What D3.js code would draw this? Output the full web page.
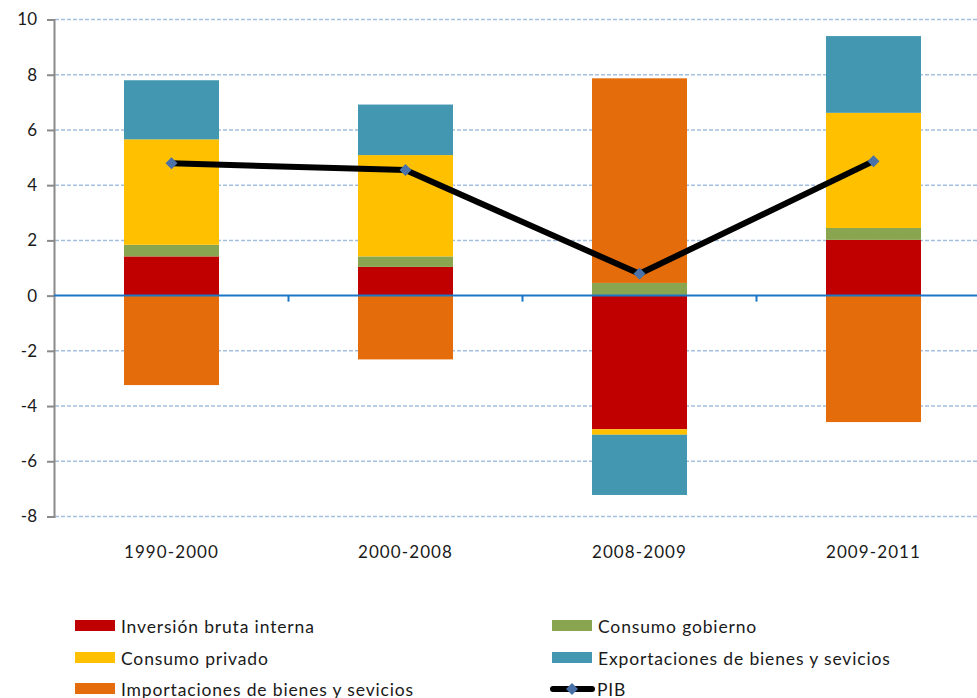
<!DOCTYPE html>
<html>
<head>
<meta charset="utf-8">
<script src="https://cdn.jsdelivr.net/npm/d3@7"></script>
<style>
  html, body { margin: 0; padding: 0; background: #fff; }
  svg { display: block; }
  text { font-family: Lato, "Open Sans", sans-serif; fill: #1a1a1a; }
</style>
</head>
<body>
<svg id="chart" width="977" height="698"></svg>
<script>
// Periods on the horizontal axis
const periods = ["1990-2000", "2000-2008", "2008-2009", "2009-2011"];

// Contributions to GDP growth, by component (percentage points)
const inversion      = [1.42, 1.04, -4.84, 2.02];
const consumoGob     = [0.42, 0.38, 0.46, 0.43];
const consumoPriv    = [3.82, 3.67, -0.20, 4.17];
const exportaciones  = [2.14, 1.83, -2.18, 2.78];
const importaciones  = [-3.24, -2.31, 7.41, -4.58];

// GDP growth line
const pib = [4.79, 4.55, 0.79, 4.87];

// Axis ticks
const yTicks = [-8, -6, -4, -2, 0, 2, 4, 6, 8, 10];

const seriesNames = [
  "Inversión bruta interna",
  "Consumo gobierno",
  "Consumo privado",
  "Exportaciones de bienes y sevicios",
  "Importaciones de bienes y sevicios"
];
const seriesValues = [inversion, consumoGob, consumoPriv, exportaciones, importaciones];
const seriesColors = ["#c00000", "#8aa54f", "#ffc000", "#4397b0", "#e46c0a"];

const svg = d3.select("#chart");
const W = 977;

const x = d3.scaleBand()
  .domain(periods)
  .range([54.5, 990.5])
  .paddingInner(0.594)
  .paddingOuter(0.297);

const y = d3.scaleLinear().domain([-8, 10]).range([516.5, 19.5]);

// Gridlines
svg.append("g")
  .selectAll("line")
  .data(yTicks.filter(t => t !== 0))
  .join("line")
  .attr("x1", 55).attr("x2", W)
  .attr("y1", d => y(d)).attr("y2", d => y(d))
  .attr("stroke", "#a4bedd")
  .attr("stroke-width", 1.5)
  .attr("stroke-dasharray", "4,2");

// Stacked data (positive and negative stacks diverge from zero)
const rows = periods.map((p, i) => {
  const r = { period: p };
  seriesNames.forEach((n, k) => { r[n] = seriesValues[k][i]; });
  return r;
});
const stacked = d3.stack()
  .keys(seriesNames)
  .offset(d3.stackOffsetDiverging)(rows);

svg.append("g")
  .selectAll("g")
  .data(stacked)
  .join("g")
  .attr("fill", (d, i) => seriesColors[i])
  .selectAll("rect")
  .data(d => d)
  .join("rect")
  .attr("x", d => x(d.data.period))
  .attr("width", x.bandwidth())
  .attr("y", d => y(Math.max(d[0], d[1])))
  .attr("height", d => Math.abs(y(d[0]) - y(d[1])));

// Left axis
const yAxis = d3.axisLeft(y)
  .tickValues(yTicks)
  .tickFormat(d => String(d))
  .tickSize(7)
  .tickPadding(10);
const gy = svg.append("g").attr("transform", "translate(54,0)").call(yAxis);
gy.select(".domain").attr("stroke", "#8a8a8a").attr("stroke-width", 2);
gy.selectAll(".tick line").attr("stroke", "#8a8a8a").attr("stroke-width", 2);
gy.selectAll(".tick text")
  .attr("font-size", 17)
  .attr("fill", "#1a1a1a")
  .style("font-family", "Lato, 'Open Sans', sans-serif");

// Zero baseline with category tick marks
const zeroY = y(0);
svg.append("line")
  .attr("x1", 54).attr("x2", W)
  .attr("y1", zeroY).attr("y2", zeroY)
  .attr("stroke", "#1a76c6")
  .attr("stroke-width", 2);
const boundaries = periods.slice(1).map(p => x(p) - x.step() * x.paddingInner() / 2);
svg.append("g")
  .selectAll("line")
  .data(boundaries)
  .join("line")
  .attr("x1", d => d).attr("x2", d => d)
  .attr("y1", zeroY).attr("y2", zeroY + 6)
  .attr("stroke", "#1a76c6")
  .attr("stroke-width", 2);

// Category labels
svg.append("g")
  .selectAll("text")
  .data(periods)
  .join("text")
  .attr("x", d => x(d) + x.bandwidth() / 2)
  .attr("y", 558)
  .attr("text-anchor", "middle")
  .attr("font-size", 17)
  .attr("letter-spacing", 1.1)
  .text(d => d);

// PIB line with diamond markers
const cx = d => x(d) + x.bandwidth() / 2;
const line = d3.line()
  .x((d, i) => cx(periods[i]))
  .y(d => y(d));
svg.append("path")
  .datum(pib)
  .attr("d", line)
  .attr("fill", "none")
  .attr("stroke", "#000")
  .attr("stroke-width", 6)
  .attr("stroke-linejoin", "round");

const diamond = d3.symbol().type(d3.symbolSquare).size(72);
svg.append("g")
  .selectAll("path")
  .data(pib)
  .join("path")
  .attr("d", diamond)
  .attr("transform", (d, i) => `translate(${cx(periods[i])},${y(d)}) rotate(45)`)
  .attr("fill", "#4a72a8");

// Legend
const legendItems = [
  { name: seriesNames[0], color: seriesColors[0], col: 0, row: 0 },
  { name: seriesNames[1], color: seriesColors[1], col: 1, row: 0 },
  { name: seriesNames[2], color: seriesColors[2], col: 0, row: 1 },
  { name: seriesNames[3], color: seriesColors[3], col: 1, row: 1 },
  { name: seriesNames[4], color: seriesColors[4], col: 0, row: 2 },
  { name: "PIB", color: null, col: 1, row: 2 }
];
const colX = [75, 552];
const rowY = [626, 658, 689];

const lg = svg.append("g")
  .selectAll("g")
  .data(legendItems)
  .join("g")
  .attr("transform", d => `translate(${colX[d.col]},${rowY[d.row]})`);

lg.filter(d => d.color)
  .append("rect")
  .attr("x", 0).attr("y", -6)
  .attr("width", 40).attr("height", 11)
  .attr("fill", d => d.color);

const pibLeg = lg.filter(d => !d.color);
pibLeg.append("line")
  .attr("x1", 1).attr("x2", 40)
  .attr("y1", 0).attr("y2", 0)
  .attr("stroke", "#000")
  .attr("stroke-width", 6)
  .attr("stroke-linecap", "round");
pibLeg.append("path")
  .attr("d", diamond)
  .attr("transform", "translate(20,0) rotate(45)")
  .attr("fill", "#4a72a8");

lg.append("text")
  .attr("x", d => d.color ? 46 : 45)
  .attr("y", 6.5)
  .attr("font-size", 17.5)
  .attr("letter-spacing", 0.85)
  .text(d => d.name);
</script>
</body>
</html>
